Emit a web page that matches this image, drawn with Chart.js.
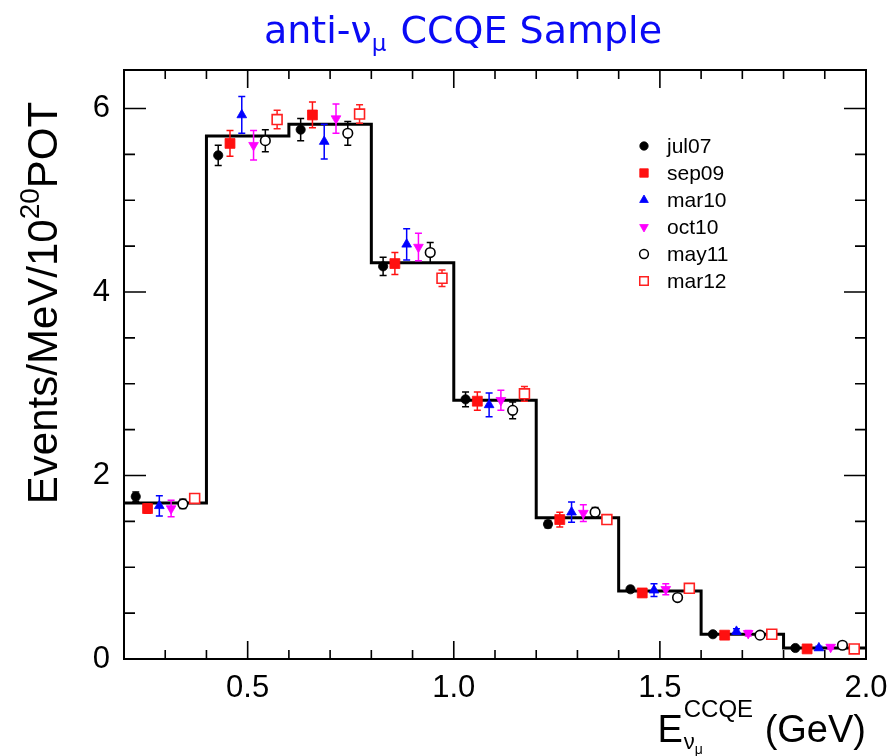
<!DOCTYPE html>
<html>
<head>
<meta charset="utf-8">
<script src="https://cdn.jsdelivr.net/npm/chart.js@4.4.1/dist/chart.umd.min.js"></script>
<style>
  html, body { margin: 0; padding: 0; background: #ffffff; }
  #c { display: block; }
</style>
</head>
<body>
<canvas id="c" width="888" height="756"></canvas>
<script>
// ---------------- data ----------------
const binEdges = [0.2, 0.4, 0.6, 0.8, 1.0, 1.2, 1.4, 1.6, 1.8, 2.0];
const mcValues = [1.70, 5.70, 5.83, 4.32, 2.82, 1.54, 0.74, 0.27, 0.12];

const seriesNames = ['jul07', 'sep09', 'mar10', 'oct10', 'may11', 'mar12'];

const jul07    = [1.77, 5.49, 5.77, 4.28, 2.83, 1.47, 0.76, 0.27, 0.12];
const jul07Err = [0.05, 0.11, 0.12, 0.10, 0.08, 0.04, 0.03, 0.02, 0.02];
const sep09    = [1.64, 5.62, 5.93, 4.31, 2.81, 1.52, 0.72, 0.26, 0.11];
const sep09Err = [0.05, 0.14, 0.14, 0.12, 0.10, 0.08, 0.04, 0.02, 0.02];
const mar10    = [1.67, 5.93, 5.64, 4.52, 2.77, 1.60, 0.75, 0.30, 0.12];
const mar10Err = [0.11, 0.20, 0.19, 0.17, 0.13, 0.11, 0.07, 0.03, 0.02];
const oct10    = [1.64, 5.60, 5.89, 4.49, 2.82, 1.59, 0.76, 0.28, 0.13];
const oct10Err = [0.09, 0.16, 0.16, 0.15, 0.11, 0.09, 0.06, 0.03, 0.02];
const may11    = [1.69, 5.65, 5.73, 4.43, 2.71, 1.60, 0.67, 0.26, 0.15];
const may11Err = [0.05, 0.12, 0.13, 0.11, 0.09, 0.05, 0.03, 0.02, 0.02];
const mar12    = [1.75, 5.88, 5.94, 4.15, 2.89, 1.52, 0.77, 0.27, 0.11];
const mar12Err = [0.03, 0.10, 0.10, 0.09, 0.08, 0.04, 0.03, 0.02, 0.02];

const xTickLabels = ['0.5', '1.0', '1.5', '2.0'];
const yTickLabels = ['0', '2', '4', '6'];

// ---------------- styles ----------------
const seriesValues = [jul07, sep09, mar10, oct10, may11, mar12];
const seriesErrors = [jul07Err, sep09Err, mar10Err, oct10Err, may11Err, mar12Err];
const seriesStyle = [
  { color: '#000000', fill: '#000000', pointStyle: 'circle',   radius: 4.6, rotation: 0,   legendR: 4.2 },
  { color: '#ff1010', fill: '#ff1010', pointStyle: 'rect',     radius: 7.0, rotation: 0,   legendR: 6.0 },
  { color: '#0000ff', fill: '#0000ff', pointStyle: 'triangle', radius: 5.6, rotation: 0,   legendR: 5.0 },
  { color: '#ff00ff', fill: '#ff00ff', pointStyle: 'triangle', radius: 5.6, rotation: 180, legendR: 5.0 },
  { color: '#000000', fill: '#ffffff', pointStyle: 'circle',   radius: 4.8, rotation: 0,   legendR: 4.4 },
  { color: '#ff2020', fill: '#ffffff', pointStyle: 'rect',     radius: 7.0, rotation: 0,   legendR: 6.0 }
];

const FONT = '"Liberation Sans", Arial, sans-serif';

// histogram as stepped line (points at bin lower edges, last at upper edge)
const histData = binEdges.map((e, i) => ({ x: e, y: mcValues[Math.min(i, mcValues.length - 1)] }));

const nSeries = seriesNames.length;
const datasets = [{
  type: 'line',
  label: 'MC',
  data: histData,
  stepped: 'before',
  borderColor: '#000000',
  borderWidth: 3,
  pointRadius: 0,
  fill: false,
  order: 10
}];
seriesNames.forEach((name, s) => {
  const st = seriesStyle[s];
  datasets.push({
    type: 'scatter',
    label: name,
    data: seriesValues[s].map((v, b) => ({
      x: binEdges[b] + (s + 1) * (binEdges[b + 1] - binEdges[b]) / (nSeries + 1),
      y: v
    })),
    errors: seriesErrors[s],
    pointStyle: st.pointStyle,
    rotation: st.rotation,
    pointRadius: st.radius,
    pointHoverRadius: st.radius,
    backgroundColor: st.fill,
    borderColor: st.color,
    borderWidth: st.fill === '#ffffff' ? 1.6 : 0.8,
    order: 1
  });
});

function isMult(v, step) {
  const r = v / step;
  return Math.abs(r - Math.round(r)) < 1e-6;
}

function drawRich(ctx, parts, x, y, align) {
  let total = 0;
  parts.forEach(p => { ctx.font = p.font; p.w = ctx.measureText(p.text).width; total += p.w + (p.gap || 0); });
  let cx = align === 'center' ? x - total / 2 : (align === 'right' ? x - total : x);
  parts.forEach(p => {
    ctx.font = p.font;
    ctx.fillText(p.text, cx, y + (p.dy || 0));
    cx += p.w + (p.gap || 0);
  });
}

const customPlugin = {
  id: 'custom',
  afterDatasetDraw(chart, args) {
    if (args.index !== 0) return;
    const ctx = chart.ctx;
    const ys = chart.scales.y;
    ctx.save();
    for (let d = 1; d < chart.data.datasets.length; d++) {
      const ds = chart.data.datasets[d];
      const meta = chart.getDatasetMeta(d);
      ctx.strokeStyle = ds.borderColor;
      ctx.lineWidth = 1.5;
      meta.data.forEach((pt, i) => {
        const v = ds.data[i].y, e = ds.errors[i];
        const y1 = ys.getPixelForValue(v + e), y2 = ys.getPixelForValue(v - e);
        ctx.beginPath();
        ctx.moveTo(pt.x, y1); ctx.lineTo(pt.x, y2);
        ctx.moveTo(pt.x - 3.5, y1); ctx.lineTo(pt.x + 3.5, y1);
        ctx.moveTo(pt.x - 3.5, y2); ctx.lineTo(pt.x + 3.5, y2);
        ctx.stroke();
      });
    }
    ctx.restore();
  },
  afterDraw(chart) {
    const ctx = chart.ctx;
    const a = chart.chartArea;
    const xs = chart.scales.x, ys = chart.scales.y;
    ctx.save();
    // frame
    ctx.strokeStyle = '#000';
    ctx.lineWidth = 2;
    ctx.strokeRect(a.left, a.top, a.right - a.left, a.bottom - a.top);
    // ticks
    ctx.lineWidth = 1.6;
    ctx.beginPath();
    xs.ticks.forEach(t => {
      const px = xs.getPixelForValue(t.value);
      const len = isMult(t.value, 0.5) ? 18 : 9;
      ctx.moveTo(px, a.bottom); ctx.lineTo(px, a.bottom - len);
      ctx.moveTo(px, a.top); ctx.lineTo(px, a.top + len);
    });
    ys.ticks.forEach(t => {
      const py = ys.getPixelForValue(t.value);
      const len = isMult(t.value, 2) ? 22 : 11;
      ctx.moveTo(a.left, py); ctx.lineTo(a.left + len, py);
      ctx.moveTo(a.right, py); ctx.lineTo(a.right - len, py);
    });
    ctx.stroke();

    // title
    ctx.fillStyle = 'rgb(10,10,245)';
    ctx.textBaseline = 'alphabetic';
    drawRich(ctx, [
      { text: 'anti-\u03bd', font: '38px "DejaVu Sans", sans-serif' },
      { text: '\u03bc', font: '23px "DejaVu Sans", sans-serif', dy: 8, gap: 2 },
      { text: ' CCQE Sample', font: '38px "DejaVu Sans", sans-serif' }
    ], 463, 43, 'center');

    // y-axis title
    ctx.fillStyle = '#000';
    ctx.save();
    ctx.translate(57, 303);
    ctx.rotate(-Math.PI / 2);
    drawRich(ctx, [
      { text: 'Events/MeV/10', font: '42px ' + FONT },
      { text: '20', font: '28px ' + FONT, dy: -18 },
      { text: 'POT', font: '42px ' + FONT }
    ], 0, 0, 'center');
    ctx.restore();

    // x-axis title  E_{nu_mu}^{CCQE} (GeV)
    ctx.font = '38px ' + FONT;
    const wE = ctx.measureText('E').width;
    ctx.font = '24px ' + FONT;
    const wSup = ctx.measureText('CCQE').width;
    ctx.font = '38px ' + FONT;
    const wG = ctx.measureText(' (GeV)').width;
    const right = a.right;
    const xStart = right - wG - wSup - wE - 2;
    ctx.font = '38px ' + FONT;
    ctx.fillText('E', xStart, 742);
    ctx.font = '24px ' + FONT;
    ctx.fillText('CCQE', xStart + wE + 1, 717);
    ctx.font = '22px ' + FONT;
    ctx.fillText('\u03bd', xStart + wE + 1, 749);
    const wNu = ctx.measureText('\u03bd').width;
    ctx.font = '14px ' + FONT;
    ctx.fillText('\u03bc', xStart + wE + 1 + wNu, 754);
    ctx.font = '38px ' + FONT;
    ctx.fillText(' (GeV)', xStart + wE + wSup + 2, 742);

    // legend
    const legY = [146, 173, 200, 227, 254, 281];
    ctx.textBaseline = 'middle';
    ctx.font = '21px ' + FONT;
    seriesNames.forEach((name, s) => {
      const st = seriesStyle[s];
      ctx.fillStyle = st.fill;
      ctx.strokeStyle = st.color;
      ctx.lineWidth = st.fill === '#ffffff' ? 1.5 : 0.8;
      Chart.helpers.drawPoint(ctx, { pointStyle: st.pointStyle, radius: st.legendR, rotation: st.rotation, borderWidth: ctx.lineWidth }, 644, legY[s]);
      ctx.fillStyle = '#000';
      ctx.fillText(name, 667, legY[s] + 1);
    });
    ctx.restore();
  }
};

new Chart(document.getElementById('c'), {
  data: { datasets },
  options: {
    responsive: false,
    animation: false,
    devicePixelRatio: 1,
    layout: { padding: { top: 70, right: 22, left: 0, bottom: 0 } },
    plugins: { legend: { display: false }, tooltip: { enabled: false }, title: { display: false } },
    scales: {
      x: {
        type: 'linear',
        min: binEdges[0],
        max: binEdges[binEdges.length - 1],
        grid: { display: false, drawTicks: false },
        border: { display: false },
        ticks: {
          stepSize: 0.1,
          autoSkip: false,
          maxRotation: 0,
          includeBounds: false,
          padding: 11,
          color: '#000',
          font: { family: FONT, size: 31 },
          callback: (v) => {
            const lbl = v.toFixed(1);
            return xTickLabels.includes(lbl) ? lbl : '';
          }
        },
        afterFit: (s) => { s.height = 97; s.paddingLeft = 0; s.paddingRight = 0; }
      },
      y: {
        type: 'linear',
        min: 0,
        max: 6.42,
        grid: { display: false, drawTicks: false },
        border: { display: false },
        ticks: {
          stepSize: 0.5,
          autoSkip: false,
          includeBounds: false,
          padding: 14,
          color: '#000',
          font: { family: FONT, size: 31 },
          callback: (v) => {
            const lbl = String(Math.round(v));
            return (isMult(v, 1) && yTickLabels.includes(lbl)) ? lbl : '';
          }
        },
        afterFit: (s) => { s.width = 124; s.paddingTop = 0; s.paddingBottom = 0; }
      }
    }
  },
  plugins: [customPlugin]
});
</script>
</body>
</html>
